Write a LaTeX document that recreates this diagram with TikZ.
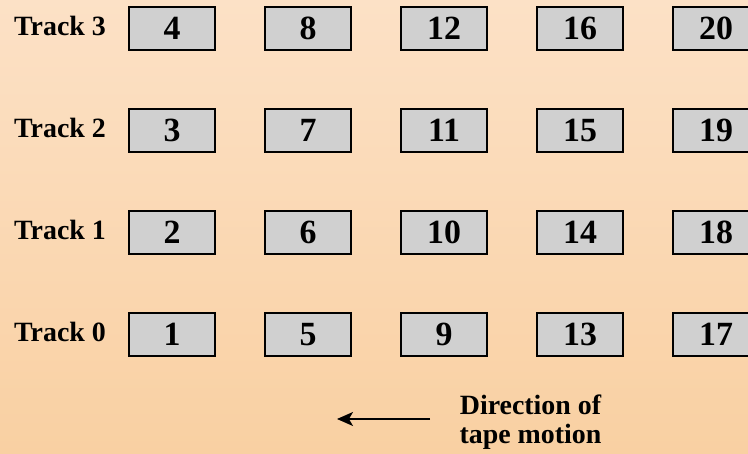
\documentclass[tikz,border=0pt]{standalone}
\usepackage{fontspec}
\setmainfont{Liberation Serif}
\usetikzlibrary{arrows.meta}
\definecolor{bgtop}{HTML}{FCE1C6}
\definecolor{bgbot}{HTML}{F9D0A2}
\definecolor{cellfill}{HTML}{D0D0D0}
\begin{document}
\begin{tikzpicture}[x=1bp,y=-1bp,
  cell/.style={draw=black, fill=cellfill, line width=1.6bp, minimum width=86bp, minimum height=43bp, inner sep=0pt,
    font=\fontsize{34}{34}\selectfont\bfseries},
  lbl/.style={inner sep=0pt, font=\fontsize{28}{28.5}\selectfont\bfseries},
  motion/.style={line width=1.6bp, -{Stealth[length=16bp,width=14bp,inset=4bp]}}]
\useasboundingbox (0,0) rectangle (748,454);
\clip (0,0) rectangle (748,454);
\shade[top color=bgtop, bottom color=bgbot] (0,0) rectangle (748,454);
\foreach \t in {0,1,2,3}{
  \node[lbl, anchor=base west] (track\t) at (14, 341.5-102*\t) {Track \t};
  \foreach \c in {0,1,2,3,4}{
    \pgfmathtruncatemacro{\n}{4*\c+\t+1}
    \node[cell] (b\n) at (172+136*\c, 334.5-102*\t) {\n};
  }
}
\coordinate (arrstart) at (430,419);
\coordinate (arrend) at (337,419);
\draw[motion] (arrstart) -- (arrend);
\node[lbl, align=center] (dir) at (530.5,422) {Direction of\\tape motion};
\end{tikzpicture}
\end{document}
